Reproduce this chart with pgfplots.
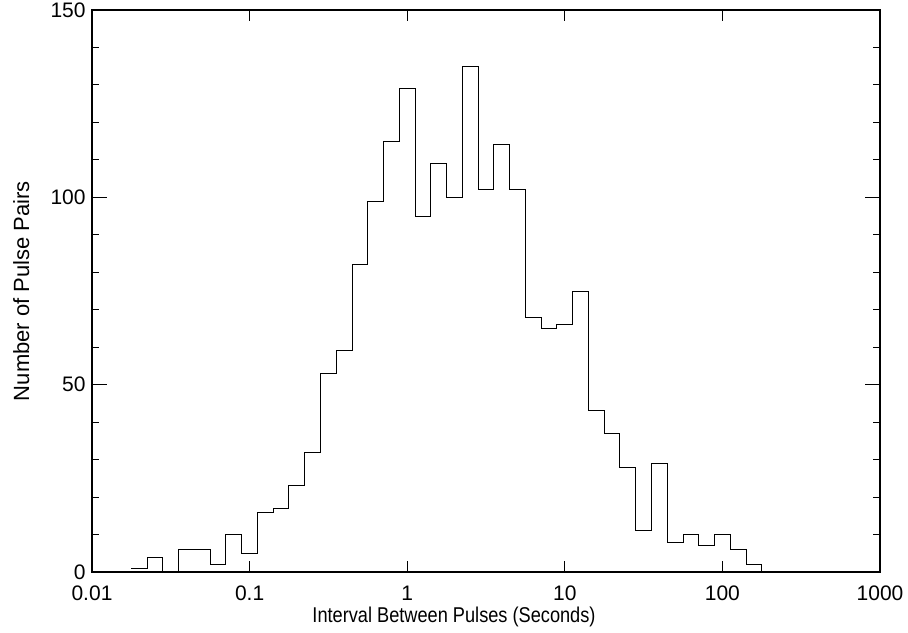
\documentclass[border=0pt]{standalone}
\usepackage{fontspec}
\setmainfont{Liberation Sans}
\usepackage{graphicx}
\usepackage{pgfplots}
\pgfplotsset{compat=1.18}
\begin{document}
\begin{tikzpicture}
\begin{axis}[
  scale only axis,
  width=394pt, height=281pt,
  xmode=log, log basis x=10,
  xmin=0.01, xmax=1000,
  ymin=0, ymax=150,
  tick align=inside,
  axis line style={line width=0.55pt},
  every tick/.style={black, line width=0.5pt},
  xtick={0.01,0.1,1,10,100,1000},
  xticklabels={0.01,0.1,1,10,100,1000},
  ytick={0,50,100,150},
  minor y tick num=4,
  major tick length=5.5pt,
  minor tick length=3pt,
  /pgf/number format/assume math mode=true,
  ticklabel style={font=\fontsize{10.5pt}{12pt}\selectfont},
  yticklabel style={/pgf/number format/fixed, anchor=east, inner sep=0pt, xshift=-3pt},
  xticklabel style={anchor=base, inner sep=0pt, yshift=-14pt},
  xlabel={\scalebox{0.85}[1]{\fontsize{10.7pt}{13pt}\selectfont Interval Between Pulses (Seconds)}},
  ylabel={\fontsize{11pt}{13pt}\selectfont Number of Pulse Pairs},
  xlabel style={at={(axis description cs:0.4594,-0.0907)}, anchor=base, inner sep=0pt},
  ylabel style={at={(axis description cs:-0.0799,0.5)}, anchor=base, inner sep=0pt},
]
\addplot[const plot mark left, black, line width=0.5pt] coordinates {
(0.0177828,1) (0.0223872,4) (0.0281838,0) (0.0354813,6) (0.0446684,6)
(0.0562341,2) (0.0707946,10) (0.0891251,5) (0.112202,16) (0.141254,17)
(0.177828,23) (0.223872,32) (0.281838,53) (0.354813,59) (0.446684,82)
(0.562341,99) (0.707946,115) (0.891251,129) (1.12202,95) (1.41254,109)
(1.77828,100) (2.23872,135) (2.81838,102) (3.54813,114) (4.46684,102)
(5.62341,68) (7.07946,65) (8.91251,66) (11.2202,75) (14.1254,43)
(17.7828,37) (22.3872,28) (28.1838,11) (35.4813,29) (44.6684,8)
(56.2341,10) (70.7946,7) (89.1251,10) (112.202,6) (141.254,2)
(177.828,0)
};
\end{axis}
\begin{axis}[
  scale only axis,
  width=394pt, height=281pt,
  xmin=0.01, xmax=1000,
  ymin=0, ymax=150,
  tick align=inside,
  axis line style={line width=0.55pt},
  every tick/.style={black, line width=0.5pt},
  xtick=\empty,
  ytick={0,50,100,150},
  yticklabels={},
  minor y tick num=4,
  major tick length=7.5pt,
  minor tick length=3.5pt,
]
\end{axis}
\path ([shift={(-46pt,-30pt)}]current axis.south west) rectangle ([shift={(14pt,5pt)}]current axis.north east);
\end{tikzpicture}
\end{document}
